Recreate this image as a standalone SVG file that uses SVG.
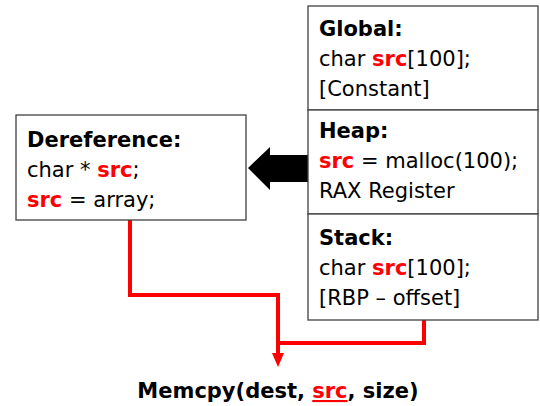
<svg xmlns="http://www.w3.org/2000/svg" width="540" height="406" viewBox="0 0 540 406">
<style>
.box{fill:#fff;stroke:#404040;stroke-width:1.3}
.t{font-family:"DejaVu Sans","Noto Sans",sans-serif;font-size:21px;fill:#000}
.b{font-weight:bold}
.r{fill:#ff0000;font-weight:bold}
.wire{fill:none;stroke:#ff0000;stroke-width:4}
</style>
<rect width="540" height="406" fill="#fff"/>
<g id="connectors">
<polyline class="wire" points="130,220 130,295 278,295 278,355"/>
<polyline class="wire" points="424,320 424,343 278,343"/>
<polygon points="272,353 284,353 278,367" fill="#ff0000"/>
<polygon points="248,168 270,147 270,155 308,155 308,182 270,182 270,190" fill="#000"/>
</g>
<g id="global">
<rect class="box" x="308" y="6" width="230" height="104"/>
<text class="t b" x="319" y="36">Global:</text>
<text class="t" x="319" y="66">char <tspan class="r">src</tspan>[100];</text>
<text class="t" x="319" y="96">[Constant]</text>
</g>
<g id="heap">
<rect class="box" x="308" y="110" width="230" height="104"/>
<text class="t b" x="319" y="138">Heap:</text>
<text class="t" x="319" y="168"><tspan class="r">src</tspan> = malloc(100);</text>
<text class="t" x="319" y="198">RAX Register</text>
</g>
<g id="stack">
<rect class="box" x="308" y="214" width="230" height="106"/>
<text class="t b" x="319" y="245">Stack:</text>
<text class="t" x="319" y="275">char <tspan class="r">src</tspan>[100];</text>
<text class="t" x="319" y="305">[RBP – offset]</text>
</g>
<g id="dereference">
<rect class="box" x="16" y="115" width="230" height="105"/>
<text class="t b" x="27" y="147">Dereference:</text>
<text class="t" x="27" y="177">char * <tspan class="r">src</tspan>;</text>
<text class="t" x="27" y="207"><tspan class="r">src</tspan> = array;</text>
</g>
<g id="memcpy">
<text class="t b" x="278" y="398" text-anchor="middle">Memcpy(dest, <tspan fill="#ff0000" text-decoration="underline">src</tspan>, size)</text>
</g>
</svg>
